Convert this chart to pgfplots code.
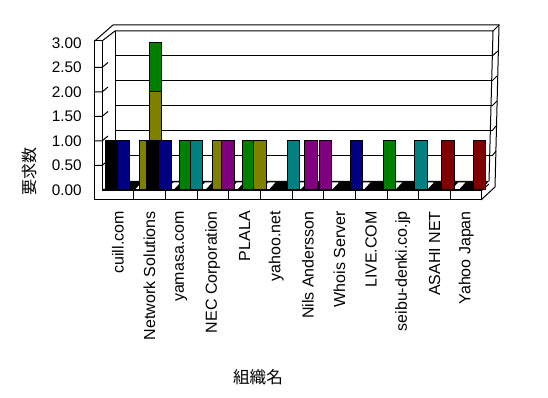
\documentclass[border=0pt]{standalone}
\usepackage{fontspec}
\setmainfont{Liberation Sans}
\newfontfamily\jp{Noto Sans CJK JP}
\usepackage{pgfplots}
\pgfplotsset{compat=1.18}
\definecolor{xnavy}{HTML}{000080}
\definecolor{xolive}{HTML}{808000}
\definecolor{xgreen}{HTML}{008000}
\definecolor{xteal}{HTML}{008080}
\definecolor{xpurple}{HTML}{800080}
\definecolor{xmaroon}{HTML}{800000}
\begin{document}
\begin{tikzpicture}
\useasboundingbox (0,0) rectangle (411pt,298.5pt);
% 3-D frame (pixel coordinates, y downward)
\begin{scope}[x=0.75pt,y=-0.75pt,yshift=298.5pt,line width=0.75pt]
  % back wall
  \draw (115,31) -- (493,31) -- (489,181);
  \foreach \y in {56,81,106,131,156} \draw (115,\y) -- (492,\y);
  \draw (115,31) -- (115,181);
  % top outer edge and right wall
  \draw (113,25) -- (499,25) -- (495,187);
  \draw (493,31) -- (499,25);
  \foreach \y/\r in {56/498,81/497,106/497,131/496,156/496}
     \draw (492,\y) -- (\r,\y-5);
  % left wall
  \draw (94.7,200) -- (94.7,41) -- (102,41) -- (102,191);
  \draw (94.7,41) -- (113,25);
  \draw (102,41) -- (115,31);
  \foreach \y in {67.5,92,116.5,141,165.5}
     \draw (94.7,\y) -- (102,\y) -- (108,\y-5);
  % floor
  \fill[black] (102,190) -- (481,190) -- (489,181) -- (115,181) -- cycle;
  \foreach \b in {102,133.7,165.3,197,228.7,260.3,292,323.7,355.3,387,418.7,450.3}
     \fill[white] (\b+2,189) -- (\b+9,189) -- (\b+15,182.5) -- (\b+8,182.5) -- cycle;
  % front slab of floor
  \draw (102,191) -- (481,191) -- (481,200) -- (94.7,200);
  \foreach \b in {133.7,165.3,197,228.7,260.3,292,323.7,355.3,387,418.7,450.3}
     \draw (\b,191) -- (\b,200);
  \draw (481,200) -- (495,187);
  \draw (481,191) -- (489,184);
\end{scope}
\begin{axis}[
  at={(76.5pt,156pt)}, anchor=south west,
  scale only axis, width=285pt, height=110.25pt,
  xmin=-0.5, xmax=11.5, ymin=0, ymax=3,
  clip=false,
  axis line style={draw=none},
  major tick length=0pt,
  tick style={draw=none},
  xtick={0,1,2,3,4,5,6,7,8,9,10,11},
  xticklabels={cuill.com, Network Solutions, yamasa.com, NEC Corporation, PLALA, yahoo.net, Nils Andersson, Whois Server, LIVE.COM, seibu-denki.co.jp, ASAHI NET, Yahoo Japan},
  xticklabel style={rotate=90, anchor=east, inner sep=0pt, font=\fontsize{12}{12}\selectfont},
  xticklabel shift=15.75pt,
  ytick={0,0.5,1,1.5,2,2.5,3},
  yticklabel style={anchor=east, inner sep=0pt, font=\fontsize{11.5}{12}\selectfont,
     /pgf/number format/.cd, fixed, fixed zerofill, precision=2, assume math mode=true},
  yticklabel shift=15pt,
  ybar, bar width=9.4pt,
  every axis plot/.append style={draw=black, line width=0.75pt},
]
\addplot[fill=xgreen, bar shift=0pt] coordinates {(1.19,3)};
\addplot[fill=xolive, bar shift=0pt] coordinates {(0.87,1) (1.19,2)};
\addplot[fill=black, bar shift=0pt] coordinates {(-0.2,1) (1.11,1)};
\addplot[fill=xnavy, bar shift=0pt] coordinates {(0.18,1) (1.49,1) (7.54,1)};
\addplot[fill=xgreen, bar shift=0pt] coordinates {(2.15,1) (4.13,1) (8.58,1)};
\addplot[fill=xteal, bar shift=0pt] coordinates {(2.48,1) (5.55,1) (9.57,1)};
\addplot[fill=xolive, bar shift=0pt] coordinates {(3.19,1) (4.49,1)};
\addplot[fill=xpurple, bar shift=0pt] coordinates {(3.48,1) (6.10,1) (6.56,1)};
\addplot[fill=xmaroon, bar shift=0pt] coordinates {(10.43,1) (11.42,1)};
\end{axis}
\begin{scope}[x=0.75pt,y=-0.75pt,yshift=298.5pt]
  \node[rotate=90, font=\jp\fontsize{12}{12}\selectfont] at (29,172) {要求数};
  \node[font=\jp\fontsize{12.5}{12.5}\selectfont] at (258,377) {組織名};
\end{scope}
\end{tikzpicture}
\end{document}
